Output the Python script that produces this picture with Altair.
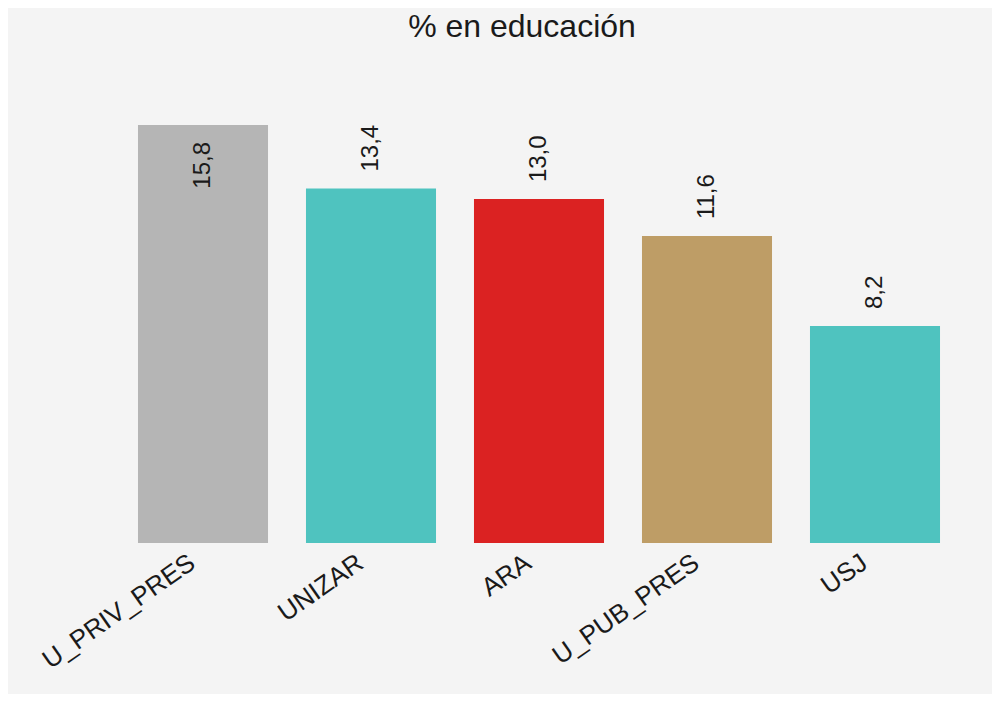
import altair as alt
import pandas as pd

categories = ["U_PRIV_PRES", "UNIZAR", "ARA", "U_PUB_PRES", "USJ"]
values = [15.8, 13.4, 13.0, 11.6, 8.2]
bar_colors = ["#B5B5B5", "#4FC3BF", "#DB2222", "#BE9D66", "#4FC3BF"]
labels = [f"{v:.1f}".replace(".", ",") for v in values]

FONT = "Liberation Sans, Arial, sans-serif"
TEXT = "#1a1a1a"

df = pd.DataFrame({"cat": categories, "val": values, "lbl": labels})

base = alt.Chart(df).encode(
    x=alt.X(
        "cat:N",
        sort=categories,
        scale=alt.Scale(paddingInner=0.226, paddingOuter=0.113),
        axis=alt.Axis(
            title=None,
            labelAngle=-35,
            labelAlign="right",
            labelBaseline="top",
            labelFontSize=26,
            labelFont=FONT,
            labelColor=TEXT,
            domain=False,
            ticks=False,
            labelPadding=6,
            labelOffset=-18,
        ),
    ),
    y=alt.Y("val:Q", scale=alt.Scale(domain=[0, 15.8], nice=False), axis=None),
)

bars = base.mark_bar().encode(
    color=alt.Color("cat:N", scale=alt.Scale(domain=categories, range=bar_colors), legend=None)
)

above = (
    base.transform_joinaggregate(mx="max(val)")
    .transform_filter("datum.val < datum.mx")
    .mark_text(angle=270, align="left", baseline="middle", dx=17, fontSize=24, font=FONT, color=TEXT)
    .encode(text="lbl:N")
)

inside = (
    base.transform_joinaggregate(mx="max(val)")
    .transform_filter("datum.val >= datum.mx")
    .mark_text(angle=270, align="right", baseline="middle", dx=-17, fontSize=24, font=FONT, color=TEXT)
    .encode(text="lbl:N")
)

chart = (
    alt.layer(bars, above, inside)
    .properties(
        width=840,
        height=418,
        autosize=alt.AutoSizeParams(type="none"),
        padding={"left": 111, "top": 117, "right": 33, "bottom": 151},
        background="#F4F4F4",
        title=alt.TitleParams(
            "% en educación",
            fontSize=32,
            font=FONT,
            fontWeight="normal",
            color=TEXT,
            anchor="middle",
            offset=81,
            dx=-17,
        ),
    )
    .configure_view(stroke=None)
)

chart.save("out.html", embed_options={"renderer": "svg", "actions": False})
